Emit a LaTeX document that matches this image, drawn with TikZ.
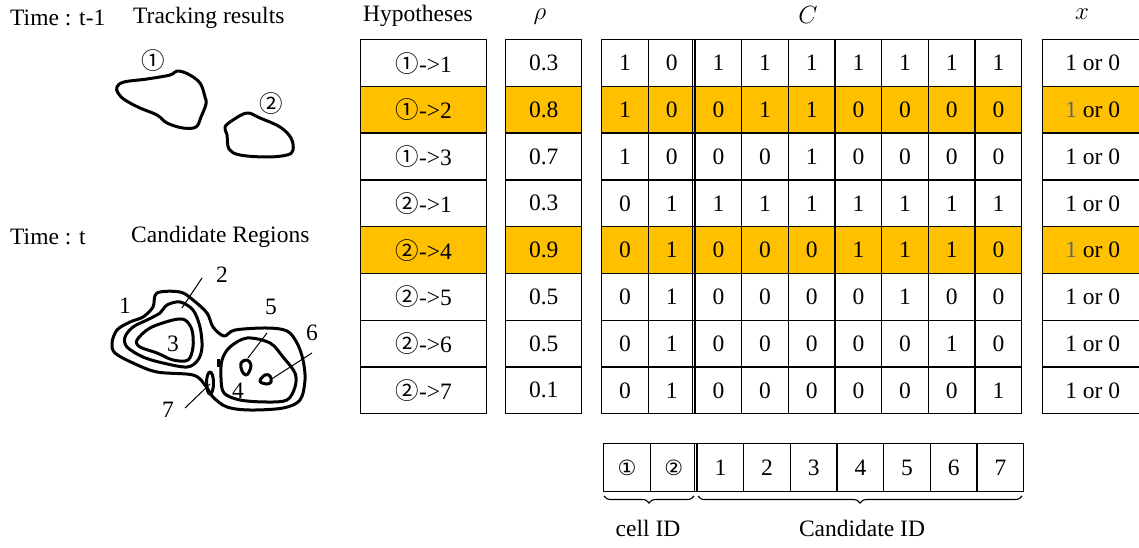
\documentclass[tikz,border=0pt]{standalone}
\usepackage{fontspec}
\setmainfont{Liberation Serif}
\newfontfamily\circfont{Noto Sans CJK SC}
\newfontfamily\idfont{DejaVu Sans}
\usetikzlibrary{decorations.pathreplacing}
\definecolor{hl}{HTML}{FFC000}
\newcommand{\cone}{{\circfont ①}}
\newcommand{\ctwo}{{\circfont ②}}
\newcommand{\bigtxt}{\fontsize{23.5}{27}\selectfont}

\begin{document}
\begin{tikzpicture}[x=1pt,y=-1pt,
  cellbox/.style={draw=black, line width=1.4pt, inner sep=0pt, anchor=north west,
    minimum height=46.75pt, font=\bigtxt},
  idbox/.style={draw=black, line width=1.4pt, inner sep=0pt, anchor=north west,
    minimum width=46.67pt, minimum height=48pt, font=\bigtxt},
  label/.style={font=\bigtxt, inner sep=0pt},
  contour/.style={line width=3pt, line join=round},
  leader/.style={line width=1pt},
  bracestyle/.style={decorate, decoration={brace, mirror, amplitude=7pt}, line width=1.1pt}]
\useasboundingbox (0,0) rectangle (1139,548);
\clip (0,0) rectangle (1139,548);

% ---- headings on the left
\node[label, anchor=west] (t1) at (10,18) {Time : t-1};
\node[label, anchor=west] (tr) at (133,18) {Tracking results};
\node[label, anchor=west] (t0) at (10,237) {Time : t};
\node[label, anchor=west] (cr) at (131,237) {Candidate Regions};

% ---- tracked cells at t-1
\draw[contour] plot[smooth cycle, tension=0.6] coordinates {
  (117,87) (124,82) (147,79) (170,75) (177,71) (188,74) (200,83) (205,97)
  (206,104) (201,117) (196,127) (183,128) (167,123) (157,115) (140,108)
  (125,100) (118,93)};
\node[label] (c1) at (153,61) {\cone};
\draw[contour] plot[smooth cycle, tension=0.6] coordinates {
  (225,127) (233,120) (247,113) (260,118) (280,127) (291,138) (293,150)
  (287,155) (267,157) (240,155) (229,149) (227,135)};
\node[label] (c2) at (271,104) {\ctwo};

% ---- candidate regions at t
\draw[contour] plot[smooth cycle, tension=0.55] coordinates {
  (157,293) (180,292) (193,300) (207,313) (213,327) (224,336) (235,330)
  (267,328) (287,331) (297,343) (303,360) (305,380) (300,400) (283,408)
  (250,410) (227,407) (213,397) (205,385) (193,375) (157,372) (133,363)
  (115,353) (112,343) (117,330) (130,322) (143,317) (153,307)};
\draw[contour] plot[smooth cycle, tension=0.55] coordinates {
  (167,305) (180,302) (193,310) (200,327) (202,347) (198,360) (187,367)
  (163,363) (143,357) (127,347) (125,337) (133,327) (147,320) (160,313)};
\draw[contour] plot[smooth cycle, tension=0.55] coordinates {
  (137,340) (150,328) (173,320) (185,320) (192,330) (193,347) (188,360)
  (173,360) (157,353) (140,347)};
\draw[contour] plot[smooth cycle, tension=0.55] coordinates {
  (222,360) (230,347) (247,338) (270,343) (283,357) (295,373) (295,387)
  (287,400) (267,402) (240,400) (224,393) (221,378)};
\draw[contour] (218,359) -- (218,367);
\draw[contour] plot[smooth cycle, tension=0.7] coordinates {
  (241,363) (247,360) (251,365) (249,372) (246,375) (242,371)};
\draw[contour] plot[smooth cycle, tension=0.7] coordinates {
  (260,381) (265,375) (270,376) (271,382) (266,384)};
\draw[contour] (210,383) ellipse [x radius=3.5, y radius=11];

\coordinate (l2a) at (202,278); \coordinate (l2b) at (182,308);
\coordinate (l5a) at (267,333); \coordinate (l5b) at (248,358);
\coordinate (l6a) at (312,353); \coordinate (l6b) at (270,380);
\coordinate (l7a) at (185,408); \coordinate (l7b) at (210,384);
\draw[leader] (l2a) -- (l2b);
\draw[leader] (l5a) -- (l5b);
\draw[leader] (l6a) -- (l6b);
\draw[leader] (l7a) -- (l7b);
\node[label] (r1) at (125,306) {1};
\node[label] (r2) at (222,275) {2};
\node[label] (r3) at (173,344) {3};
\node[label] (r4) at (238,391) {4};
\node[label] (r5) at (271,307) {5};
\node[label] (r6) at (312,333) {6};
\node[label] (r7) at (168,410) {7};

% ---- column headings
\node[label] (hh) at (418,16) {Hypotheses};
\node[label] (hr) at (540,17) {$\rho$};
\node[label] (hc) at (808,15) {$C$};
\node[label] (hx) at (1082,14) {$x$};

% ---- hypotheses, rho and x columns
\foreach \hyp/\rh [count=\r] in {\cone->1/0.3, \cone->2/0.8, \cone->3/0.7,
    \ctwo->1/0.3, \ctwo->4/0.9, \ctwo->5/0.5, \ctwo->6/0.5, \ctwo->7/0.1} {
  \ifnum\r=2 \def\fc{hl}\else\ifnum\r=5 \def\fc{hl}\else\def\fc{white}\fi\fi
  \pgfmathsetmacro{\ytop}{39+46.75*(\r-1)}
  \node[cellbox, fill=\fc, minimum width=126pt] (hyp\r) at (360,\ytop) {\hyp};
  \node[cellbox, fill=\fc, minimum width=76pt] (rho\r) at (505,\ytop) {\rh};
  \ifnum\r=2
    \node[cellbox, fill=\fc, minimum width=100pt] (x\r) at (1042,\ytop) {{\color[gray]{0.4}1} or 0};
  \else\ifnum\r=5
    \node[cellbox, fill=\fc, minimum width=100pt] (x\r) at (1042,\ytop) {{\color[gray]{0.4}1} or 0};
  \else
    \node[cellbox, fill=\fc, minimum width=100pt] (x\r) at (1042,\ytop) {1 or 0};
  \fi\fi
}

% ---- constraint matrix C
\foreach \row [count=\r] in {
    {1,0,1,1,1,1,1,1,1},
    {1,0,0,1,1,0,0,0,0},
    {1,0,0,0,1,0,0,0,0},
    {0,1,1,1,1,1,1,1,1},
    {0,1,0,0,0,1,1,1,0},
    {0,1,0,0,0,0,1,0,0},
    {0,1,0,0,0,0,0,1,0},
    {0,1,0,0,0,0,0,0,1}} {
  \ifnum\r=2 \def\fc{hl}\else\ifnum\r=5 \def\fc{hl}\else\def\fc{white}\fi\fi
  \pgfmathsetmacro{\ytop}{39+46.75*(\r-1)}
  \foreach \v [count=\c] in \row {
    \pgfmathsetmacro{\xl}{601+46.67*(\c-1)}
    \node[cellbox, fill=\fc, minimum width=46.67pt] (m\r-\c) at (\xl,\ytop) {\v};
  }
}
% double rule between the cell part and the candidate part of C
\coordinate (sepTop) at ([xshift=-1.6pt]m1-3.north west);
\coordinate (sepBot) at ([xshift=-1.6pt]m8-3.south west);
\draw[line width=0.8pt] (sepTop) -- (sepBot);

% ---- ID row
\foreach \lab [count=\c] in {{\idfont\fontsize{21}{24}\selectfont ①},
    {\idfont\fontsize{21}{24}\selectfont ②},1,2,3,4,5,6,7} {
  \pgfmathsetmacro{\xl}{603+46.67*(\c-1)}
  \node[idbox] (id\c) at (\xl,443) {\lab};
}
\draw[line width=0.8pt] ([xshift=-1.6pt]id3.north west) -- ([xshift=-1.6pt]id3.south west);

\coordinate (ba) at (604,496); \coordinate (bb) at (694,496);
\coordinate (bc) at (698,496); \coordinate (bd) at (1022,496);
\draw[bracestyle] (ba) -- (bb);
\draw[bracestyle] (bc) -- (bd);
\node[label] (cid) at (648,528) {cell ID};
\node[label] (kid) at (862,528) {Candidate ID};
\end{tikzpicture}
\end{document}
